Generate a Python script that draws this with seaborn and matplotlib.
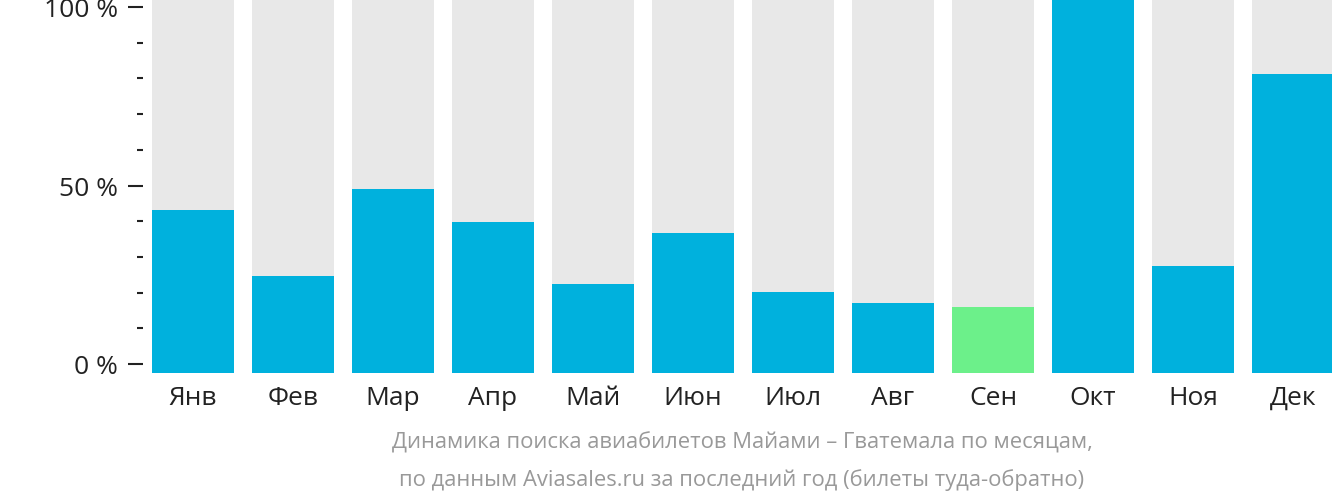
import matplotlib
matplotlib.use("Agg")
import matplotlib.pyplot as plt
import seaborn as sns
import pandas as pd
import numpy as np

months = ["Янв", "Фев", "Мар", "Апр", "Май", "Июн", "Июл", "Авг", "Сен", "Окт", "Ноя", "Дек"]
values = [43.7, 26.0, 49.1, 40.5, 23.9, 37.5, 21.7, 18.8, 17.7, 100.0, 28.7, 79.9]
highlight = "Сен"
tick_values = [0, 50, 100]
tick_labels = ["0 %", "50 %", "100 %"]
caption = ["Динамика поиска авиабилетов Майами – Гватемала по месяцам,",
           "по данным Aviasales.ru за последний год (билеты туда-обратно)"]

sns.set_theme(style="white")
plt.rcParams["font.family"] = ["Open Sans", "DejaVu Sans"]

W, H = 1332, 502
fig = plt.figure(figsize=(W / 100, H / 100), dpi=100)

# bar axes: pixel x 143..1343, y 0..373
ax = fig.add_axes([143 / W, (H - 374) / H, 1200 / W, 374 / H])
df = pd.DataFrame({"month": months, "value": values, "full": [100.0] * len(months)})
blue = "#00B1DD"
green = "#6CF08A"
grey = "#E8E8E8"
sns.barplot(data=df, x="month", y="full", color=grey, width=0.82, ax=ax,
            saturation=1, linewidth=0)
palette = {m: (green if m == highlight else blue) for m in months}
sns.barplot(data=df, x="month", y="value", hue="month", palette=palette, width=0.82,
            ax=ax, saturation=1, linewidth=0, legend=False)
ax.set_xlim(-0.5, 11.5)
ax.set_ylim(0, 100)
ax.set_yticks([])
ax.set_xlabel("")
ax.set_ylabel("")
for s in ax.spines.values():
    s.set_visible(False)
ax.tick_params(axis="x", length=0, pad=8.5, labelsize=19, labelcolor="#222222")

# tick axes: pixel y 8..365
tax = fig.add_axes([143 / W, (H - 365) / H, 1 / W, 357 / H])
tax.set_ylim(0, 100)
tax.set_xticks([])
tax.set_yticks(tick_values)
tax.set_yticklabels(tick_labels)
tax.set_yticks(np.arange(0, 101, 10), minor=True)
tax.patch.set_alpha(0)
for s in tax.spines.values():
    s.set_visible(False)
tax.tick_params(axis="y", which="major", length=11, width=1.5, color="#222222",
                labelsize=19, labelcolor="#222222", pad=7, left=True)
tax.tick_params(axis="y", which="minor", length=4.3, width=1.5, color="#222222", left=True)

cx = (152 + 1332) / 2 / W
fig.text(cx, 1 - 443 / H, caption[0], ha="center", va="center", fontsize=15.8, color="#999999")
fig.text(cx, 1 - 480 / H, caption[1], ha="center", va="center", fontsize=15.8, color="#999999")

fig.savefig("out.png", dpi=100)
